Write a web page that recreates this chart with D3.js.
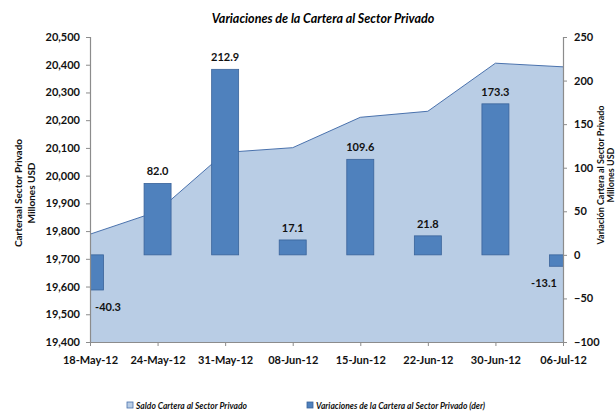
<!DOCTYPE html>
<html>
<head>
<meta charset="utf-8">
<script src="https://cdnjs.cloudflare.com/ajax/libs/d3/7.8.5/d3.min.js"></script>
<style>
  html, body { margin: 0; padding: 0; background: #fff; }
  svg { display: block; font-family: Lato, "Open Sans", sans-serif; }
</style>
</head>
<body>
<svg id="chart" width="616" height="414"></svg>
<script>
'use strict';

// data
const fechas = ['18-May-12', '24-May-12', '31-May-12', '08-Jun-12', '15-Jun-12', '22-Jun-12', '30-Jun-12', '06-Jul-12'];
const saldo = [19788.8, 19870.8, 20083.7, 20100.8, 20210.4, 20232.2, 20405.5, 20392.4];
const variacion = [-40.3, 82.0, 212.9, 17.1, 109.6, 21.8, 173.3, -13.1];
const ticksIzq = [19400, 19500, 19600, 19700, 19800, 19900, 20000, 20100, 20200, 20300, 20400, 20500];
const ticksDer = [-100, -50, 0, 50, 100, 150, 200, 250];

const svg = d3.select('#chart');
const plotLeft = 90, plotRight = 563, plotTop = 37, plotBottom = 342;

const x = d3.scalePoint().domain(fechas).range([plotLeft, plotRight]);
const yL = d3.scaleLinear().domain([19400, 20500]).range([plotBottom, plotTop]);
const yR = d3.scaleLinear().domain([-100, 250]).range([plotBottom, plotTop]);

svg.append('defs').append('clipPath').attr('id', 'plot')
    .append('rect').attr('x', plotLeft).attr('y', plotTop)
    .attr('width', plotRight - plotLeft).attr('height', plotBottom - plotTop);

/**
 * Area (saldo) on the left axis
 */
const area = d3.area()
    .x((d, i) => x(fechas[i]))
    .y0(yL(19400))
    .y1(d => yL(d));
svg.append('path')
    .attr('d', area(saldo))
    .attr('fill', '#b9cde5');
svg.append('path')
    .attr('d', d3.line().x((d, i) => x(fechas[i])).y(d => yL(d))(saldo))
    .attr('fill', 'none')
    .attr('stroke', '#4a72ad')
    .attr('stroke-width', 1);

/**
 * Bars (variaciones) on the right axis
 */
const barW = 27;
svg.append('g').attr('clip-path', 'url(#plot)')
    .selectAll('rect').data(variacion).join('rect')
    .attr('x', (d, i) => x(fechas[i]) - barW / 2)
    .attr('y', d => yR(Math.max(0, d)))
    .attr('width', barW)
    .attr('height', d => Math.abs(yR(d) - yR(0)))
    .attr('fill', '#4f81bd')
    .attr('stroke', '#3a639a')
    .attr('stroke-width', 0.8);

svg.append('g').selectAll('text').data(variacion).join('text')
    .attr('x', (d, i) => Math.max(plotLeft + 18, Math.min(plotRight - 19, x(fechas[i]))))
    .attr('y', d => d >= 0 ? yR(d) - 8 : yR(d) + 21)
    .attr('text-anchor', 'middle')
    .attr('font-size', 11)
    .attr('font-weight', 'bold')
    .attr('fill', '#111')
    .text(d => d.toFixed(1));

/**
 * Axes
 */
const axisColor = '#8c8c8c';
const gL = svg.append('g').attr('transform', `translate(${plotLeft},0)`)
    .call(d3.axisLeft(yL).tickValues(ticksIzq).tickSize(4).tickPadding(6).tickFormat(d3.format(',')));
const gR = svg.append('g').attr('transform', `translate(${plotRight},0)`)
    .call(d3.axisRight(yR).tickValues(ticksDer).tickSize(4).tickPadding(7));
const gX = svg.append('g').attr('transform', `translate(0,${plotBottom})`)
    .call(d3.axisBottom(x).tickSize(4).tickPadding(10));

[gL, gR, gX].forEach(g => {
    g.select('.domain').attr('stroke', axisColor).attr('stroke-width', 1.2);
    g.selectAll('.tick line').attr('stroke', axisColor);
    g.selectAll('.tick text')
        .attr('font-family', 'Lato, sans-serif')
        .attr('font-size', 11)
        .attr('font-weight', 'bold')
        .attr('fill', '#111');
});
gX.select('.domain').attr('d', `M${plotLeft},0.5H${plotRight}`);

/**
 * Titles
 */
svg.append('text')
    .attr('x', 323).attr('y', 23)
    .attr('text-anchor', 'middle')
    .attr('font-size', 12.5)
    .attr('font-weight', 'bold')
    .attr('font-style', 'italic')
    .text('Variaciones de la Cartera al Sector Privado');

const tituloIzq = svg.append('text')
    .attr('transform', 'translate(22,193) rotate(-90)')
    .attr('text-anchor', 'middle')
    .attr('font-size', 10)
    .attr('font-weight', 'bold')
    .attr('fill', '#111');
tituloIzq.append('tspan').attr('x', 0).attr('dy', 0).text('Carteraal Sector Privado');
tituloIzq.append('tspan').attr('x', 0).attr('dy', 13).text('Millones USD');

const tituloDer = svg.append('text')
    .attr('transform', 'translate(604,175) rotate(-90)')
    .attr('text-anchor', 'middle')
    .attr('font-size', 9)
    .attr('font-weight', 'bold')
    .attr('fill', '#111');
tituloDer.append('tspan').attr('x', 0).attr('dy', 0).text('Variación Cartera al Sector Privado');
tituloDer.append('tspan').attr('x', 0).attr('dy', 10).text('Millones USD');

/**
 * Legend
 */
const leyenda = [
    { nombre: 'Saldo Cartera al Sector Privado', fill: '#b9cde5', stroke: '#4a72ad', x: 127 },
    { nombre: 'Variaciones de la Cartera al Sector Privado (der)', fill: '#4f81bd', stroke: '#3a639a', x: 307 }
];
const gLey = svg.append('g').selectAll('g').data(leyenda).join('g')
    .attr('transform', d => `translate(${d.x},402)`);
gLey.append('rect')
    .attr('width', 6).attr('height', 6)
    .attr('fill', d => d.fill)
    .attr('stroke', d => d.stroke)
    .attr('stroke-width', 0.8);
gLey.append('text')
    .attr('x', 9).attr('y', 6.5)
    .attr('font-size', 8.5)
    .attr('font-weight', 'bold')
    .attr('font-style', 'italic')
    .attr('fill', '#111')
    .text(d => d.nombre);
</script>
</body>
</html>
